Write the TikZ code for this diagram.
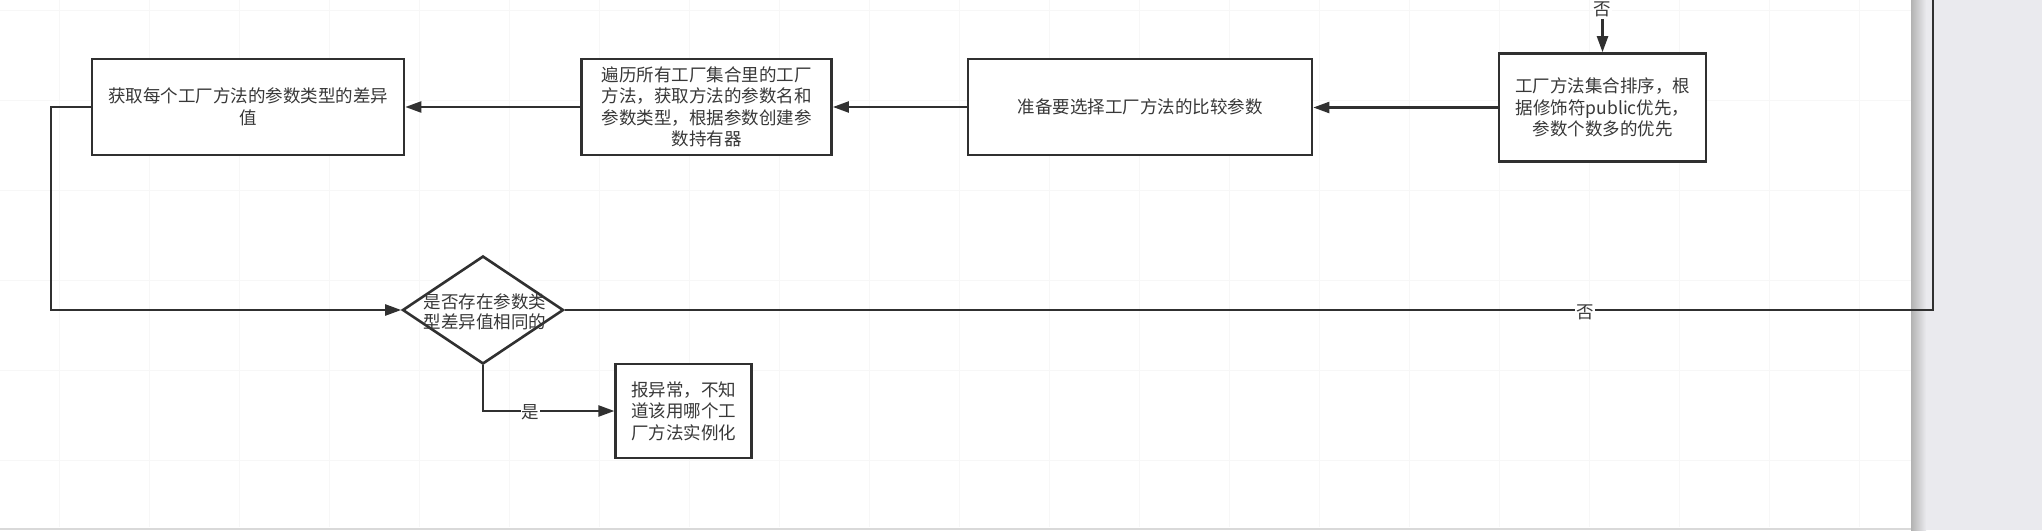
\documentclass[tikz,border=0pt]{standalone}
\usepackage{fontspec}
\setmainfont{Noto Sans CJK SC}
\usetikzlibrary{shapes.geometric,arrows.meta}
\definecolor{ink}{HTML}{303030}
\definecolor{txt}{HTML}{383838}
\definecolor{panel}{HTML}{EAEAEE}
\definecolor{gridc}{HTML}{F7F7F7}
\begin{document}
\begin{tikzpicture}[x=1pt,y=-1pt,
  box/.style={draw=ink,line width=2.6pt,fill=white,align=center,
    font=\fontsize{17.5}{21.5}\selectfont,text=txt,inner sep=0pt,minimum height=96pt},
  conn/.style={draw=ink,line width=2.3pt},
  arr/.style={conn,-{Triangle[length=16pt,width=11pt]}},
  lbl/.style={fill=white,font=\fontsize{17.5}{20}\selectfont,text=txt,inner sep=1pt}]
\useasboundingbox (0,0) rectangle (2042,530);
\fill[white] (0,0) rectangle (2042,530);
% faint grid
\foreach \x in {59,149,...,1889} \draw[gridc,line width=0.8pt] (\x,0) -- (\x,527);
\foreach \y in {10,100,...,460} \draw[gridc,line width=0.8pt] (0,\y) -- (1911,\y);
% right panel and bottom edge
\shade[left color=gray!60,right color=panel] (1911,0) rectangle (1926,530);
\fill[panel] (1926,0) rectangle (2042,530);
\fill[gray!30] (0,527.5) rectangle (1911,530);

% nodes
\node[box,minimum width=312pt] (b1) at (248,107) {获取每个工厂方法的参数类型的差异\\值};
\node[box,minimum width=250pt] (b2) at (706.6,107) {遍历所有工厂集合里的工厂\\方法，获取方法的参数名和\\参数类型，根据参数创建参\\数持有器};
\node[box,minimum width=344pt] (b3) at (1140,107) {准备要选择工厂方法的比较参数};
\node[box,minimum width=207pt,minimum height=108pt] (b4) at (1602.5,107.5) {工厂方法集合排序，根\\据修饰符public优先，\\参数个数多的优先};
\node[diamond,draw=ink,line width=2.6pt,fill=white,minimum width=161pt,minimum height=108pt,inner sep=0pt] (d) at (483,310) {};
\node[align=center,font=\fontsize{17.5}{20}\selectfont,text=txt,inner sep=0pt] (dt) at (485,311.5) {是否存在参数类\\型差异值相同的};
\node[box,minimum width=136pt,minimum height=94pt] (b5) at (683.7,411) {报异常，不知\\道该用哪个工\\厂方法实例化};

% connectors
\coordinate (topin) at (1602.5,19);
\coordinate (topout) at (1933,-5);
\draw[arr] (topin) -- (b4.north);
\node[lbl,inner sep=0.5pt] (n1) at (1602.5,9.5) {否};
\draw[arr] (b4.west) -- (b3.east |- b4.west);
\draw[arr] (b3.west) -- (b2.east);
\draw[arr] (b2.west) -- (b1.east);
\draw[arr] (b1.west) -- ++(-39.5,0) |- (d.west);
\draw[conn] (d.east) -| (topout);
\node[lbl] (n2) at (1585,312) {否};
\draw[arr] (d.south) |- (b5.west);
\node[lbl] (n3) at (530.5,412) {是};
\end{tikzpicture}
\end{document}
